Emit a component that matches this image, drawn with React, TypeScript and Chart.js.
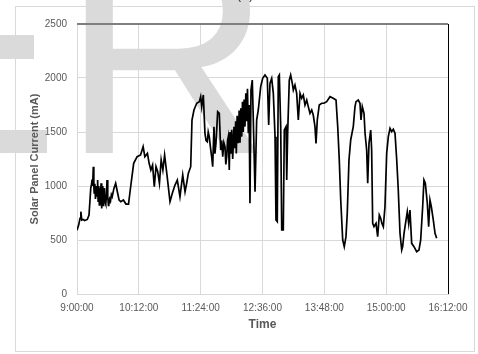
import React, { useEffect, useRef } from "react";
import { Chart, registerables } from "chart.js";

Chart.register(...registerables);

// minutes after 9:00:00
const minutes = [
  0, 2, 3.5, 4.5, 5.5, 7, 9, 12, 14, 16, 17, 17.5, 18.2, 19, 19.6, 20, 20.8, 21.5, 22.2, 23, 23.5, 24, 24.6, 25, 25.6, 26,
  26.5, 27, 27.6, 28, 28.5, 29, 29.6, 30, 30.5, 31, 31.6, 32, 32.7, 33.5, 34.2, 35, 35.6, 36, 36.6, 37, 38, 39, 40, 41,
  43, 45, 47, 49, 51, 54, 57, 60, 62, 64, 66, 70, 74, 77, 79, 82, 84, 86, 88, 90, 92, 94, 96, 98, 100, 102, 105, 108.3, 111,
  114.1, 116.8, 119.9, 123.1, 125.8, 127.7, 129.6, 132.4, 133.9, 136.2, 139.4, 142.4, 144, 145.2, 147.1, 149, 150.3, 151.7,
  152.8, 154, 155.5, 156.8, 158, 159.5, 160.6, 161.8, 163.8, 165.7, 167.3, 168.5, 169.7, 171, 172.3, 173.3, 174.3, 175.3,
  176.2, 177.3, 178.2, 179.3, 180.2, 181.3, 182.8, 183.6, 184.8, 185.5, 186.5, 187.8, 188.8, 189.8, 190.8, 191.8, 192.7,
  193.6, 194.6, 195.6, 196.6, 197.6, 198.5, 199.5, 200.4, 201.4, 202.6, 204.1, 205.3, 207.3, 209.2, 211.1, 213.9, 216.2,
  218.9, 221.6, 223.2, 224.7, 226.7, 228.6, 230.6, 231.7, 233.2, 234.4, 235.6, 237.2, 238.4, 240.2, 241.4, 243.4, 244.2,
  245.3, 247.2, 248.8, 250.7, 251.9, 253.8, 255.8, 257.7, 259.7, 261.6, 263.5, 265.5, 267.5, 269.3, 271.3, 273.3, 275.1,
  277.1, 278.3, 279.8, 282.1, 284.9, 287.6, 290.7, 294.6, 298.4, 301.6, 303.6, 305.4, 307.1, 309.4, 311.2, 313.2, 314.7,
  316.7, 318.7, 321.7, 323.7, 324.9, 327.5, 329.5, 330.7, 332.2, 334.2, 335.4, 337.3, 338.5, 340, 342, 343.1, 344.3, 345.8,
  348.2, 350.1, 352, 353.6, 355.1, 356.7, 358.6, 360.6, 362.5, 364.5, 366.4, 368.3, 370.3, 372.3, 374.1, 376.1, 378.1,
  379.2, 380.8, 383.1, 384.6, 386.2, 387.7, 389.7, 392.4, 395.5, 398.2, 400.2, 402.5, 404, 405.6, 407.9, 409.5, 411, 412.6,
  414.9, 416.9, 418.8,
];

// solar panel current in mA
const current = [
  590, 640, 700, 762, 685, 690, 680, 690, 731, 978, 1020, 1060, 1000, 1179, 1000, 935, 1020, 880, 1000, 901, 980, 1055, 860,
  880, 1000, 824, 940, 960, 830, 1025, 900, 793, 920, 1000, 820, 850, 980, 960, 850, 830, 900, 1055, 880, 900, 820, 824,
  880, 860, 920, 901, 978, 1025, 947, 870, 855, 870, 833, 833, 963, 1086, 1210, 1271, 1287, 1364, 1271,
  1302, 1210, 1148, 1194, 994, 1179, 1133, 1025, 1241, 1148, 1287, 1086, 855, 932,
  1009, 1055, 901, 1102, 947, 1025, 1117, 1179, 1611, 1704, 1766, 1781, 1827, 1735, 1843, 1488, 1420, 1410,
  1500, 1457, 1350, 1271, 1179, 1549, 1300, 1395, 1688, 1673, 1333, 1420, 1271, 1400, 1364, 1200, 1271, 1420,
  1457, 1148, 1500, 1300, 1520, 1250, 1549, 1350, 1600, 1302, 1650, 1395, 1700, 1400, 1720, 1457, 1780,
  1500, 1800, 1550, 1858, 1600, 1900, 1488, 1750, 840, 1889, 1981, 1611, 947, 1611, 1704, 1920, 1997,
  2028, 1997, 1565, 1951, 1997, 1858, 1457, 685, 670, 2012, 2028, 1549, 593, 593, 1518, 1549, 1055,
  1488, 1981, 2028, 1951, 1889, 1935, 1858, 1611, 1858, 1812, 1843, 1750, 1796, 1735, 1673, 1704, 1657,
  1549, 1395, 1611, 1750, 1766, 1766, 1781, 1827, 1812, 1796, 1549, 1241, 870, 500, 438, 531, 747,
  1241, 1426, 1549, 1735, 1781, 1796, 1766, 1611, 1735, 1673, 1488, 1333, 1025, 1395, 1518, 1333, 654, 623,
  654, 531, 731, 701, 654, 623, 808, 1302, 1457, 1534, 1503, 1525, 1488, 1241, 963, 562, 407,
  438, 562, 685, 762, 654, 778, 469, 438, 392, 407, 500, 808, 1055, 1025, 840, 623, 870, 808,
  685, 562, 516,
];

const xTickLabels = ["9:00:00", "10:12:00", "11:24:00", "12:36:00", "13:48:00", "15:00:00", "16:12:00"];
const xAxisTitle = "Time";
const yAxisTitle = "Solar Panel Current (mA)";
const panelLabel = "(a)";
const watermarkText = "R";

const FONT = "'Liberation Sans', Arial, sans-serif";

export default function App() {
  const ref = useRef<HTMLCanvasElement | null>(null);

  useEffect(() => {
    const canvas = ref.current;
    if (!canvas) return;

    const decor = {
      id: "decor",
      beforeDraw(chart: any) {
        const ctx = chart.ctx;
        ctx.save();
        ctx.fillStyle = "#ffffff";
        ctx.fillRect(0, 0, chart.width, chart.height);
        ctx.strokeStyle = "#d9d9d9";
        ctx.lineWidth = 1;
        ctx.strokeRect(15.5, 6.5, 459, 345);
        ctx.fillStyle = "#dadada";
        ctx.fillRect(0, 35, 34, 24);
        ctx.fillRect(0, 130, 47, 23);
        ctx.font = "290px " + FONT;
        ctx.textBaseline = "alphabetic";
        ctx.textAlign = "left";
        ctx.fillText(watermarkText, 62, 153);
        ctx.fillStyle = "#404040";
        ctx.font = "14px " + FONT;
        ctx.textAlign = "center";
        ctx.fillText(panelLabel, 245, -1);
        ctx.restore();
      },
      afterDraw(chart: any) {
        const { ctx, chartArea } = chart;
        ctx.save();
        ctx.strokeStyle = "#7f7f7f";
        ctx.lineWidth = 2;
        ctx.beginPath();
        ctx.moveTo(chartArea.left, chartArea.top);
        ctx.lineTo(chartArea.right, chartArea.top);
        ctx.stroke();
        ctx.strokeStyle = "#000000";
        ctx.lineWidth = 1;
        ctx.beginPath();
        ctx.moveTo(chartArea.right + 0.5, chartArea.top);
        ctx.lineTo(chartArea.right + 0.5, chartArea.bottom);
        ctx.stroke();
        ctx.restore();
      },
    };

    const chart = new Chart(canvas, {
      type: "line",
      data: {
        datasets: [
          {
            data: minutes.map((m, i) => ({ x: m, y: current[i] })),
            borderColor: "#000000",
            borderWidth: 1.7,
            pointRadius: 0,
            tension: 0,
            fill: false,
          },
        ],
      },
      options: {
        responsive: false,
        animation: false,
        devicePixelRatio: 1,
        layout: { padding: { top: 24, right: 30, left: 0, bottom: 0 } },
        plugins: { legend: { display: false }, tooltip: { enabled: false } },
        scales: {
          x: {
            type: "linear",
            min: 0,
            max: 432,
            afterFit: (s: any) => {
              s.height = 60;
            },
            ticks: {
              stepSize: 72,
              color: "#595959",
              font: { family: FONT, size: 10 },
              padding: 8,
              maxRotation: 0,
              callback: (_v: any, i: number) => xTickLabels[i],
            },
            grid: { color: "#d9d9d9", drawTicks: false },
            border: { color: "#d9d9d9" },
            title: {
              display: true,
              text: xAxisTitle,
              color: "#595959",
              font: { family: FONT, size: 12, weight: "bold" },
              padding: { top: 0, bottom: 22 },
            },
          },
          y: {
            min: 0,
            max: 2500,
            afterFit: (s: any) => {
              s.width = 77;
            },
            ticks: {
              stepSize: 500,
              color: "#595959",
              font: { family: FONT, size: 10 },
              padding: 10,
              callback: (v: any) => String(v),
            },
            grid: { color: "#d9d9d9", drawTicks: false },
            border: { color: "#d9d9d9" },
            title: {
              display: true,
              text: yAxisTitle,
              color: "#595959",
              font: { family: FONT, size: 11, weight: "bold" },
              padding: { top: 28, bottom: 0 },
            },
          },
        },
      },
      plugins: [decor],
    } as any);

    return () => chart.destroy();
  }, []);

  return (
    <div style={{ position: "fixed", left: 0, top: 0, width: 478, height: 354 }}>
      <canvas ref={ref} width={478} height={354} style={{ display: "block" }} />
    </div>
  );
}
